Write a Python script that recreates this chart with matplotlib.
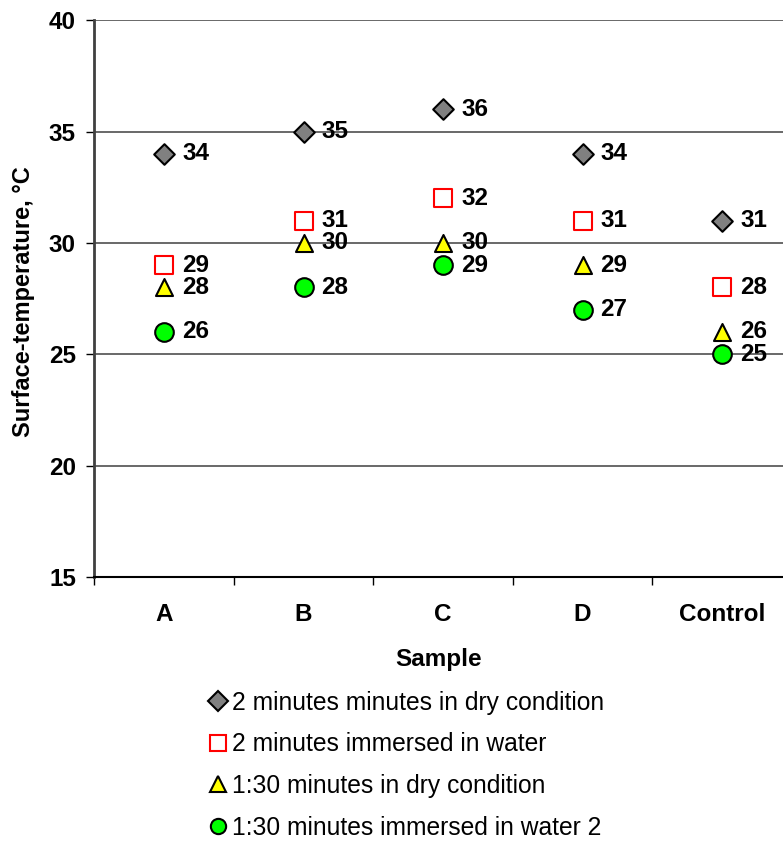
import matplotlib.pyplot as plt
import numpy as np

plt.rcParams['font.family'] = ['Liberation Sans', 'DejaVu Sans']

samples = ['A', 'B', 'C', 'D', 'Control']
dry_2min = [34, 35, 36, 34, 31]
water_2min = [29, 31, 32, 31, 28]
dry_130 = [28, 30, 30, 29, 26]
water_130 = [26, 28, 29, 27, 25]

labels = ['2 minutes minutes in dry condition',
          '2 minutes immersed in water',
          '1:30 minutes in dry condition',
          '1:30 minutes immersed in water 2']

fig = plt.figure(figsize=(7.83, 8.41), dpi=100)
ax = fig.add_axes([0.12, 0.314, 0.88, 0.662])

x = np.arange(len(samples))

# marker styles per series
styles = [
    dict(marker='D', s=110, facecolor='#808080', edgecolor='black'),
    dict(marker='s', s=150, facecolor='white', edgecolor='#ff0000'),
    dict(marker='^', s=150, facecolor='#ffff00', edgecolor='black'),
    dict(marker='o', s=180, facecolor='#00ff00', edgecolor='black'),
]
series = [dry_2min, water_2min, dry_130, water_130]

for vals, st, lab in zip(series, styles, labels):
    ax.scatter(x, vals, marker=st['marker'], s=st['s'], facecolors=st['facecolor'],
               edgecolors=st['edgecolor'], linewidths=1.5, zorder=3, label=lab)
    for xi, v in zip(x, vals):
        ax.annotate(str(v), (xi, v), xytext=(13, 0), textcoords='offset points',
                    va='center', ha='left', fontsize=17.5, fontweight='bold', zorder=4)

ax.set_xlim(-0.502, 4.437)
ax.set_ylim(15, 40)
ax.set_yticks([15, 20, 25, 30, 35, 40])
ax.yaxis.grid(True, color='#404040', linewidth=1.1)
ax.set_axisbelow(True)

ax.set_xticks(x)
ax.set_xticklabels(samples, fontsize=17.5, fontweight='bold')
ax.set_xticks(np.arange(-0.5, 4.5, 1), minor=True)
ax.tick_params(axis='x', which='major', length=0, pad=18.5)
ax.tick_params(axis='x', which='minor', length=6, direction='out', width=1)
ax.tick_params(axis='y', length=6, direction='out', width=1, pad=7, labelsize=17.5)
for t in ax.get_yticklabels():
    t.set_fontweight('bold')

for sp in ['top', 'right']:
    ax.spines[sp].set_visible(False)
ax.spines['left'].set_color('#404040')
ax.spines['left'].set_linewidth(2)
ax.spines['bottom'].set_color('black')
ax.spines['bottom'].set_linewidth(1.5)

ax.set_xlabel('Sample', fontsize=17.5, fontweight='bold', labelpad=16)
ax.set_ylabel('Surface-temperature, °C', fontsize=17, fontweight='bold', labelpad=10)
ax.yaxis.label.set_y(0.494)

leg_handles = [plt.Line2D([], [], linestyle='none', marker=st['marker'],
                          markersize=11 if st['marker'] != 'D' else 10,
                          markerfacecolor=st['facecolor'], markeredgecolor=st['edgecolor'],
                          markeredgewidth=1.5) for st in styles]
fig.legend(leg_handles, labels, loc='upper left', bbox_to_anchor=(0.257, 0.1905),
           frameon=False, fontsize=17.7, handlelength=0.6, handletextpad=0.25,
           labelspacing=0.72, borderaxespad=0)

fig.savefig('out.png', dpi=100)
